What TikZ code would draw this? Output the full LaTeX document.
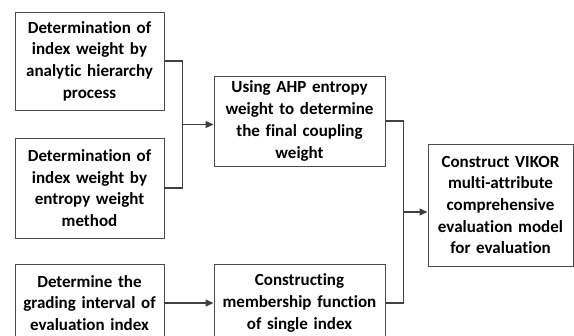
\documentclass[tikz,border=0pt]{standalone}
\usepackage{fontspec}
\setmainfont{Carlito}[Ligatures=NoCommon]
\usetikzlibrary{arrows.meta,calc,shadows}
\tikzset{
	stepbox/.style={draw=black!70, line width=0.9pt, fill=white, align=center, inner sep=0pt,
		font=\fontsize{17}{21.7}\selectfont\bfseries,
		drop shadow={shadow xshift=1.2pt, shadow yshift=-1.2pt, fill=black!25, opacity=1}},
	link/.style={draw=black!75, line width=1.1pt},
	linkarrow/.style={link, -{Triangle[length=8pt,width=7pt]}}
}

\begin{document}
\begin{tikzpicture}[x=1pt, y=-1pt]
			%%%%% START %%%%%
			
			\clip (0, 0) rectangle (574, 336);
			\useasboundingbox (0, 0) rectangle (574, 336);
			
			\node[stepbox, minimum width=149pt, minimum height=98pt, text width=145pt] (ahp) at (89.5, 61) {Determination of\\index weight by\\analytic hierarchy\\process};
			\node[stepbox, minimum width=149pt, minimum height=100pt, text width=145pt] (ent) at (89.5, 188) {Determination of\\index weight by\\entropy weight\\method};
			\node[stepbox, minimum width=149pt, minimum height=78pt, text width=145pt] (grade) at (89.5, 303) {Determine the\\grading interval of\\evaluation index};
			
			\node[stepbox, minimum width=171pt, minimum height=90pt, text width=167pt] (couple) at (299.5, 121) {Using AHP entropy\\weight to determine\\the final coupling\\weight};
			\node[stepbox, minimum width=171pt, minimum height=78pt, text width=167pt] (member) at (299.5, 303) {Constructing\\membership function\\of single index};
			
			\node[stepbox, minimum width=145pt, minimum height=122pt, text width=141pt] (vikor) at (500.5, 205) {Construct VIKOR\\multi-attribute\\comprehensive\\evaluation model\\for evaluation};
			
			% weights join
			\coordinate (j1) at ($(ahp.east)!0.5!(ent.east) + (18, 0)$);
			\draw[link] (ahp.east) -| (j1) |- (ent.east);
			\draw[linkarrow] (j1) -- (j1 -| couple.west);
			
			\draw[linkarrow] (grade.east) -- (member.west);
			
			% model join
			\coordinate (j2) at ($(couple.east)!0.5!(member.east) + (18, 0)$);
			\draw[link] (couple.east) -| (j2) |- (member.east);
			\draw[linkarrow] (j2) -- (j2 -| vikor.west);
			
			%%%%% END %%%%%
		\end{tikzpicture}
\end{document}
